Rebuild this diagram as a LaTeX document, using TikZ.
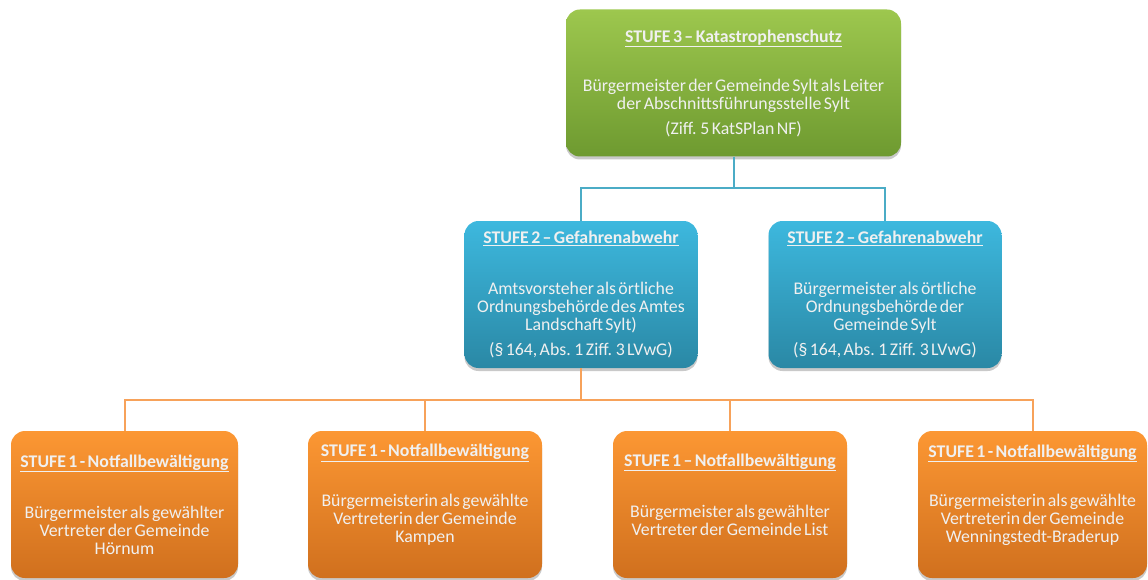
\documentclass[tikz,border=0pt]{standalone}
\usepackage{fontspec}
\setmainfont{Carlito}[WordSpace=0.6]
\usetikzlibrary{%
    shadows,%
    positioning%
}

\definecolor{gruenhell}{HTML}{9DC74E}
\definecolor{gruendunkel}{HTML}{6E9A30}
\definecolor{blauhell}{HTML}{3DB8DE}
\definecolor{blaudunkel}{HTML}{2A88A5}
\definecolor{orangehell}{HTML}{FC9733}
\definecolor{orangedunkel}{HTML}{D0701E}
\definecolor{blaulinie}{HTML}{4BACC6}
\definecolor{orangelinie}{HTML}{F7A25A}

\tikzset{
	stufe/.style={rounded corners=14pt, minimum height=147pt, inner sep=0pt, align=center,
		text=white!94!black, font=\fontsize{17.8}{18}\selectfont,
		drop shadow={shadow xshift=0pt, shadow yshift=-3pt, opacity=.3, fill=black!70}},
	stufedrei/.style={stufe, top color=gruenhell, bottom color=gruendunkel, minimum width=335pt},
	stufezwei/.style={stufe, top color=blauhell, bottom color=blaudunkel, minimum width=233pt},
	stufeeins/.style={stufe, top color=orangehell, bottom color=orangedunkel},
	blaulink/.style={blaulinie, line width=2pt},
	orangelink/.style={orangelinie, line width=2pt}
}

\begin{document}
\begin{tikzpicture}[x=1pt, y=-1pt]
				\useasboundingbox (0,0) rectangle (1148,580);

				% Stufe 3
				\node[stufedrei] (kat) at (733.5,83) {\textbf{\underline{STUFE 3 – Katastrophenschutz}}\\[31pt]
					Bürgermeister der Gemeinde Sylt als Leiter\\
					der Abschnittsführungsstelle Sylt\\[7pt]
					(Ziff. 5 KatSPlan NF)};

				% Stufe 2
				\node[stufezwei] (amt) at (581,294.5) {\textbf{\underline{STUFE 2 – Gefahrenabwehr}}\\[33pt]
					Amtsvorsteher als örtliche\\
					Ordnungsbehörde des Amtes\\
					Landschaft Sylt)\\[7pt]
					(§ 164, Abs. 1 Ziff. 3 LVwG)};
				\node[stufezwei] (sylt) at (885,294.5) {\textbf{\underline{STUFE 2 – Gefahrenabwehr}}\\[33pt]
					Bürgermeister als örtliche\\
					Ordnungsbehörde der\\
					Gemeinde Sylt\\[7pt]
					(§ 164, Abs. 1 Ziff. 3 LVwG)};

				% Stufe 1
				\node[stufeeins, minimum width=227pt] (hoernum) at (124.5,504.5) {\textbf{\underline{STUFE 1 - Notfallbewältigung}}\\[33pt]
					Bürgermeister als gewählter\\
					Vertreter der Gemeinde\\
					Hörnum};
				\node[stufeeins, minimum width=234pt] (kampen) at (425,504.5) {\textbf{\underline{STUFE 1 - Notfallbewältigung}}\\[32pt]
					Bürgermeisterin als gewählte\\
					Vertreterin der Gemeinde\\
					Kampen\\[4pt]
					\mbox{}};
				\node[stufeeins, minimum width=234pt] (list) at (730,504.5) {\textbf{\underline{STUFE 1 – Notfallbewältigung}}\\[33pt]
					Bürgermeister als gewählter\\
					Vertreter der Gemeinde List\\[2pt]
					\mbox{}};
				\node[stufeeins, minimum width=229pt] (wenning) at (1032.5,504.5) {\textbf{\underline{STUFE 1 - Notfallbewältigung}}\\[31pt]
					Bürgermeisterin als gewählte\\
					Vertreterin der Gemeinde\\
					Wenningstedt-Braderup\\[4pt]
					\mbox{}};

				% Verbindungen
				\draw[blaulink] (kat.south) -- ++(0,31) -| (amt.north);
				\draw[blaulink] (kat.south) -- ++(0,31) -| (sylt.north);
				\draw[orangelink] (amt.south) -- ++(0,32) -| (hoernum.north);
				\draw[orangelink] (amt.south) -- ++(0,32) -| (kampen.north);
				\draw[orangelink] (amt.south) -- ++(0,32) -| (list.north);
				\draw[orangelink] (amt.south) -- ++(0,32) -| (wenning.north);
			\end{tikzpicture}
\end{document}
